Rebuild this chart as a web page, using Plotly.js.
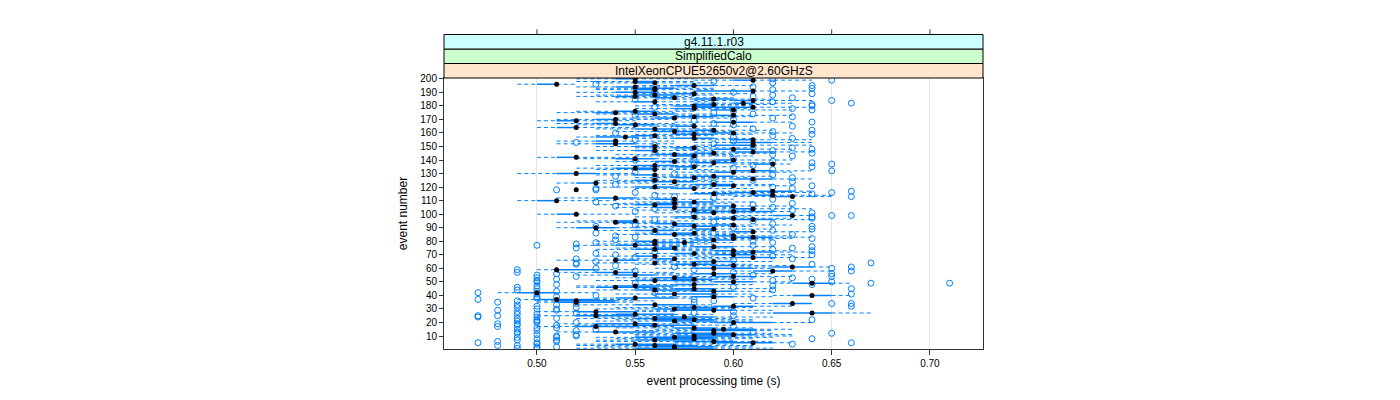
<!DOCTYPE html>
<html>
<head>
<meta charset="utf-8">
<script src="https://cdn.plot.ly/plotly-3.0.1.min.js"></script>
<style>html,body{margin:0;padding:0;background:#fff;}#chart{width:1400px;height:400px;}</style>
</head>
<body>
<div id="chart"></div>
<script>
// ---- data (approximate) ----
const stripLabels = ["g4.11.1.r03", "SimplifiedCalo", "IntelXeonCPUE52650v2@2.60GHzS"];
const stripColors = ["#CCFFFF", "#CCFFCC", "#FFE5CC"];
const xTickVals = [0.50, 0.55, 0.60, 0.65, 0.70];
const xTickText = ["0.50", "0.55", "0.60", "0.65", "0.70"];
const yTickVals = [10,20,30,40,50,60,70,80,90,100,110,120,130,140,150,160,170,180,190,200];

const medians = [
 .57,.57,.56,.55,.61,.59,.56,.58,.57,.58,
 .60,.59,.54,.59,.595,.58,.53,.56,.55,.60,
 .57,.58,.56,.575,.53,.55,.64,.53,.59,.57,
 .58,.60,.56,.63,.52,.52,.51,.55,.59,.64,
 .57,.50,.59,.56,.58,.54,.55,.58,.64,.60,
 .56,.58,.57,.60,.55,.59,.54,.62,.51,.59,
 .63,.60,.58,.56,.59,.54,.57,.61,.56,.60,
 .58,.61,.60,.56,.57,.59,.55,.56,.575,.56,
 .59,.60,.61,.60,.57,.58,.61,.56,.59,.53,
 .58,.60,.57,.54,.55,.61,.60,.58,.63,.52,
 .59,.60,.58,.61,.57,.60,.56,.57,.58,.51,
 .57,.54,.63,.62,.59,.61,.62,.52,.58,.56,
 .60,.59,.53,.57,.56,.61,.58,.59,.56,.52,
 .60,.61,.56,.55,.58,.56,.62,.59,.57,.60,
 .55,.52,.58,.57,.59,.61,.56,.60,.58,.56,
 .61,.54,.61,.54,.61,.58,.545,.56,.58,.60,
 .57,.59,.56,.52,.58,.55,.54,.60,.52,.54,
 .57,.58,.60,.56,.54,.55,.60,.58,.61,.58,
 .59,.605,.56,.61,.59,.57,.55,.56,.58,.55,
 .61,.56,.56,.55,.58,.51,.56,.55,.61,.55
];
const lowerQuartile = [
 .55,.56,.55,.54,.59,.57,.55,.56,.55,.57,
 .58,.57,.53,.58,.58,.57,.52,.55,.53,.59,
 .56,.56,.55,.56,.52,.54,.62,.52,.57,.56,
 .57,.59,.55,.62,.51,.51,.50,.54,.58,.63,
 .56,.49,.58,.55,.57,.53,.54,.57,.63,.59,
 .55,.57,.56,.59,.54,.58,.53,.61,.51,.58,
 .62,.59,.57,.56,.58,.54,.56,.60,.55,.59,
 .57,.60,.59,.55,.56,.58,.54,.56,.56,.55,
 .58,.60,.60,.59,.56,.57,.60,.55,.58,.52,
 .57,.59,.56,.54,.54,.60,.59,.57,.62,.51,
 .58,.59,.58,.60,.56,.59,.55,.56,.57,.50,
 .56,.53,.62,.61,.58,.60,.61,.52,.57,.55,
 .59,.58,.52,.56,.55,.60,.57,.58,.55,.51,
 .59,.60,.55,.54,.57,.55,.61,.58,.56,.59,
 .54,.51,.57,.56,.58,.60,.55,.59,.57,.55,
 .59,.53,.60,.53,.60,.57,.53,.55,.57,.59,
 .56,.58,.55,.51,.57,.54,.53,.59,.51,.53,
 .56,.57,.59,.55,.53,.54,.59,.57,.58,.57,
 .58,.60,.55,.60,.58,.56,.54,.55,.57,.54,
 .58,.55,.55,.54,.57,.50,.55,.55,.60,.54
];
const upperQuartile = [
 .59,.59,.58,.57,.62,.60,.58,.59,.59,.60,
 .61,.60,.56,.61,.61,.59,.55,.58,.56,.62,
 .59,.59,.58,.59,.55,.57,.65,.55,.60,.59,
 .59,.61,.58,.64,.54,.54,.53,.57,.60,.65,
 .59,.51,.60,.58,.59,.56,.57,.59,.65,.61,
 .58,.59,.58,.61,.56,.60,.55,.63,.53,.61,
 .64,.60,.59,.56,.60,.55,.57,.62,.56,.61,
 .58,.62,.60,.57,.57,.60,.56,.56,.58,.56,
 .60,.60,.62,.60,.58,.58,.61,.57,.59,.54,
 .59,.60,.58,.55,.55,.62,.60,.58,.63,.52,
 .59,.62,.59,.61,.58,.60,.57,.57,.59,.51,
 .57,.55,.63,.62,.60,.61,.63,.52,.58,.57,
 .60,.60,.53,.58,.56,.62,.58,.60,.56,.53,
 .60,.62,.56,.56,.58,.57,.62,.60,.57,.60,
 .56,.52,.58,.58,.59,.62,.56,.61,.58,.56,
 .61,.55,.62,.54,.61,.59,.55,.56,.59,.60,
 .58,.59,.57,.52,.58,.56,.54,.61,.52,.54,
 .57,.59,.60,.57,.54,.56,.60,.58,.61,.59,
 .59,.61,.56,.61,.60,.57,.55,.57,.58,.56,
 .61,.56,.57,.55,.59,.51,.56,.56,.61,.55
];
const whiskerLow = [
 .52,.53,.52,.52,.57,.53,.53,.54,.53,.55,
 .55,.54,.51,.55,.56,.54,.50,.52,.51,.57,
 .53,.54,.52,.53,.50,.52,.61,.50,.55,.53,
 .54,.56,.52,.60,.50,.50,.49,.53,.56,.62,
 .54,.48,.56,.53,.55,.52,.52,.55,.62,.57,
 .53,.55,.54,.57,.52,.56,.51,.60,.50,.56,
 .60,.57,.55,.53,.56,.51,.54,.58,.53,.57,
 .55,.58,.57,.53,.54,.56,.52,.53,.55,.53,
 .56,.57,.58,.57,.54,.55,.58,.53,.56,.51,
 .55,.57,.54,.51,.52,.58,.57,.55,.60,.50,
 .56,.57,.55,.58,.54,.57,.53,.54,.55,.49,
 .54,.51,.60,.59,.56,.58,.59,.52,.55,.53,
 .57,.56,.51,.54,.53,.58,.55,.56,.53,.49,
 .57,.58,.53,.52,.55,.53,.60,.56,.54,.57,
 .52,.50,.55,.54,.56,.58,.53,.57,.55,.53,
 .58,.51,.58,.51,.58,.55,.52,.53,.55,.57,
 .54,.56,.53,.50,.55,.52,.51,.57,.50,.51,
 .54,.55,.57,.53,.51,.52,.57,.55,.58,.55,
 .56,.58,.53,.58,.56,.54,.52,.53,.55,.52,
 .58,.53,.53,.52,.55,.49,.53,.52,.58,.52
];
const whiskerHigh = [
 .62,.61,.61,.60,.63,.62,.60,.61,.62,.63,
 .63,.62,.58,.62,.63,.61,.57,.60,.58,.64,
 .61,.61,.60,.62,.57,.59,.67,.57,.62,.60,
 .61,.63,.59,.64,.55,.56,.55,.58,.62,.66,
 .61,.53,.62,.59,.62,.57,.58,.61,.66,.63,
 .59,.61,.60,.63,.58,.62,.57,.65,.55,.62,
 .65,.63,.61,.59,.62,.57,.60,.64,.59,.63,
 .61,.64,.63,.59,.60,.62,.58,.59,.60,.59,
 .62,.63,.64,.63,.60,.61,.64,.59,.62,.57,
 .61,.63,.60,.57,.58,.64,.63,.61,.64,.55,
 .62,.63,.61,.64,.60,.63,.59,.60,.61,.54,
 .60,.57,.65,.65,.62,.64,.64,.52,.61,.59,
 .63,.62,.56,.60,.59,.64,.61,.62,.59,.55,
 .63,.64,.59,.58,.61,.59,.63,.62,.60,.63,
 .58,.55,.61,.60,.62,.64,.59,.63,.61,.59,
 .64,.57,.64,.57,.64,.61,.57,.59,.61,.63,
 .60,.62,.59,.55,.61,.58,.57,.63,.55,.57,
 .60,.61,.63,.59,.57,.58,.63,.61,.64,.61,
 .62,.63,.59,.64,.62,.60,.58,.59,.61,.58,
 .64,.59,.59,.58,.61,.52,.59,.58,.64,.58
];
const outliers = [
 [.49,.50],[.50,.51],[.48,.49],[.50,.63],[.47,.50,.66],[.48,.51],[.49,.51],[.50,.64],[.49,.51],[.51,.52],
 [.50,.52],[.49,.65],[.49,.61],[.50,.52],[.49,.53],[.50,.51],[.48,.60],[.49,.51],[.48,.49],[.50,.52],
 [.49,.50],[.50,.64],[.49,.51],[.47,.50],[.47,.48,.60],[.49,.50],[.52,.58],[.49,.60],[.48,.51],[.50,.51],
 [.49,.52],[.50,.66],[.49,.51],[.52,.65,.66],[.48,.58],[.49,.59],[.47,.58],[.50,.61],[.50,.51],[.53,.59],
 [.50,.66],[.47,.56],[.50,.51],[.49,.62],[.50,.66],[.49,.60],[.50,.62],[.51,.64],[.55,.67,.71],[.50,.65],
 [.50,.62],[.51,.64],[.50,.63],[.52,.65],[.50,.61],[.51,.65],[.49,.60],[.55,.66],[.49,.58],[.53,.65],
 [.57,.66],[.54],[.52,.64],[.52,.67],[.53],[.60],[.52,.63],[.55],[.62],[.54,.64],
 [.53],[.56],[.64],[.62],[.52,.63],[.64],[.50,.61],[.52],[.53,.62],[.61],
 [.54],[.64],[.55],[.54],[.63],[.53],[.56],[.62],[.64],[.60],
 [.53,.64],[.55],[.62],[.59],[.61],[.56],[.64],[.64],[.65,.66],[.58],
 [.64],[.55],[.63],[.56],[.62],[.54],[.61],[.63],[.53],[.57],
 [.62],[.59],[.57,.66],[.56],[.64],[.55,.65],[.66],[.51,.53],[.53,.63],[.62],
 [.64],[.54],[.59],[.63],[.61],[.56],[.63],[.54],[.62],[.57],
 [.55],[.65],[.62],[.60],[.64],[.61],[.58,.65],[.64],[.62],[.55],
 [.60],[.58],[.63],[.62],[.64],[.56],[.62],[.64],[.63],[.61],
 [.56],[.59],[.52],[.60],[.55],[.63],[.60],[.62],[.64],[.54],
 [.62],[.64],[.61],[.57],[.63],[.60],[.59],[.64],[.58],[.60],
 [.62],[.63],[.55],[.61],[.59],[.60],[.64],[.63],[.56],[.64],
 [.64],[.66],[.62],[.65],[.55],[.63],[.61],[.62],[.64],[.60],
 [.56],[.62],[.64],[.61],[.64],[.53],[.62],[.59],[.65],[.62]
];
const events = medians.map((_, i) => i + 1);

// ---- build traces ----
const BLUE = "#0080ff";
const wx = [], wy = [], bx = [], by = [], ox = [], oy = [];
events.forEach((e, i) => {
  wx.push(whiskerLow[i], lowerQuartile[i], null, upperQuartile[i], whiskerHigh[i], null);
  wy.push(e, e, null, e, e, null);
  if (upperQuartile[i] > lowerQuartile[i]) {
    bx.push(lowerQuartile[i], upperQuartile[i], null);
    by.push(e, e, null);
  }
  outliers[i].forEach(v => { ox.push(v); oy.push(e); });
});

const traces = [
  {type: "scatter", mode: "lines", x: wx, y: wy, connectgaps: false, hoverinfo: "skip",
   line: {color: BLUE, width: 1, dash: "4px,3px"}},
  {type: "scatter", mode: "lines", x: bx, y: by, connectgaps: false, hoverinfo: "skip",
   line: {color: BLUE, width: 1.5}},
  {type: "scatter", mode: "markers", x: ox, y: oy, hoverinfo: "skip",
   marker: {symbol: "circle-open", size: 6, color: BLUE, line: {color: BLUE, width: 1}}},
  {type: "scatter", mode: "markers", x: medians, y: events, hoverinfo: "skip",
   marker: {symbol: "circle", size: 5, color: "#000000"}}
];

// ---- strips and top ticks ----
const plotH = 271;
const stripH = 14.5 / plotH;
const shapes = [];
const annotations = [];
for (let k = 0; k < 3; k++) {
  const idx = 2 - k; // bottom strip is the last label
  const y0 = 1 + k * stripH, y1 = 1 + (k + 1) * stripH;
  shapes.push({type: "rect", xref: "paper", yref: "paper", x0: 0, x1: 1, y0: y0, y1: y1,
    fillcolor: stripColors[idx], line: {color: "#000000", width: 1}, layer: "above"});
  annotations.push({xref: "paper", yref: "paper", x: 0.5, y: (y0 + y1) / 2, xanchor: "center",
    yanchor: "middle", showarrow: false, text: stripLabels[idx],
    font: {family: "Liberation Sans, Arial, sans-serif", size: 12, color: "#000"}});
}
const stripTop = 1 + 3 * stripH;
xTickVals.forEach(v => {
  shapes.push({type: "line", xref: "x", yref: "paper", x0: v, x1: v, y0: stripTop, y1: stripTop + 5 / plotH,
    line: {color: "#333333", width: 1}});
});

const layout = {
  width: 1400, height: 400,
  margin: {l: 444, r: 417, t: 78, b: 51, pad: 0},
  paper_bgcolor: "#ffffff", plot_bgcolor: "#ffffff",
  showlegend: false,
  font: {family: "Liberation Sans, Arial, sans-serif", size: 10, color: "#000"},
  xaxis: {
    range: [0.4527, 0.727], tickvals: xTickVals, ticktext: xTickText,
    ticks: "outside", ticklen: 5, tickcolor: "#333", tickfont: {size: 10},
    showline: true, linecolor: "#333", linewidth: 1, mirror: true,
    showgrid: true, gridcolor: "#e6e6e6", gridwidth: 1, zeroline: false,
    title: {text: "event processing time (s)", font: {size: 12}, standoff: 8},
    automargin: false
  },
  yaxis: {
    range: [0.4, 200.6], tickvals: yTickVals, ticks: "outside", ticklen: 4, tickcolor: "#333",
    tickfont: {size: 10},
    showline: true, linecolor: "#333", linewidth: 1, mirror: true,
    showgrid: false, zeroline: false,
    title: {text: "event number", font: {size: 12}, standoff: 10},
    automargin: false
  },
  shapes: shapes,
  annotations: annotations
};

Plotly.newPlot("chart", traces, layout, {staticPlot: true, displayModeBar: false});
</script>
</body>
</html>
